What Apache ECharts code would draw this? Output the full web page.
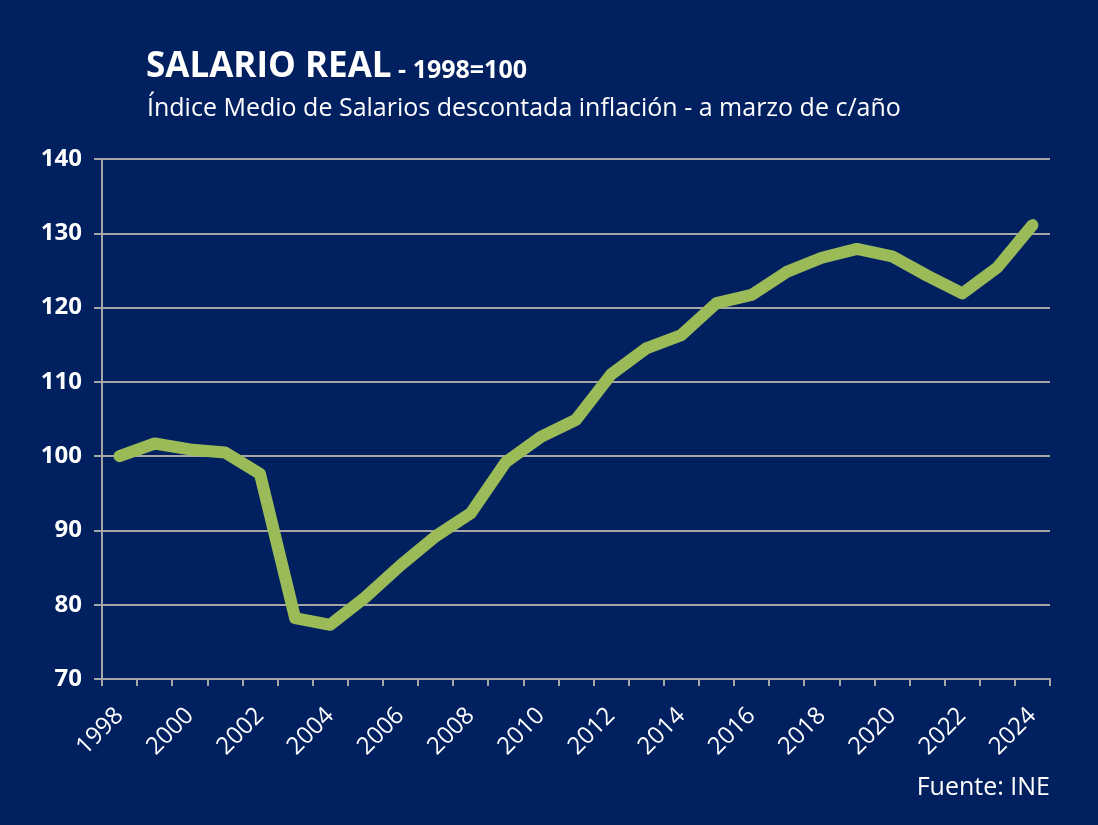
<!DOCTYPE html>
<html><head><meta charset="utf-8">
<script src="https://cdn.jsdelivr.net/npm/echarts@6/dist/echarts.min.js"></script>
<style>html,body{margin:0;padding:0;background:#002060}#c{width:1098px;height:825px}</style>
</head><body><div id="c"></div>
<script>
const years = ['1998','1999','2000','2001','2002','2003','2004','2005','2006','2007','2008','2009','2010','2011','2012','2013','2014','2015','2016','2017','2018','2019','2020','2021','2022','2023','2024'];
const salarioReal = [100.0,101.7,100.9,100.5,97.6,78.2,77.3,81.0,85.3,89.2,92.3,99.2,102.6,104.9,111.0,114.5,116.3,120.6,121.7,124.8,126.7,127.9,126.9,124.3,121.9,125.4,131.1];
const titleMain = 'SALARIO REAL';
const titleSub = ' - 1998=100';
const subtitle = 'Índice Medio de Salarios descontada inflación - a marzo de c/año';
const source = 'Fuente: INE';

const chart = echarts.init(document.getElementById('c'));
const font = 'Open Sans';
chart.setOption({
  backgroundColor: '#002060',
  textStyle: {fontFamily: font},
  graphic: [
    {type:'text', left:146, top:50, style:{rich:{a:{fontSize:35,fontWeight:'bold',fill:'#fff',fontFamily:font},b:{fontSize:25,fontWeight:'bold',fill:'#fff',fontFamily:font,padding:[6,0,0,0]}}, text:'{a|'+titleMain+'}{b|'+titleSub+'}'}},
    {type:'text', left:147, top:96, style:{text:subtitle, fontSize:25, fill:'#fff', fontFamily:font}},
    {type:'text', right:48, top:775, style:{text:source, fontSize:25, fill:'#fff', fontFamily:font}}
  ],
  grid: {left:102, right:48, top:159, bottom:146},
  xAxis: {
    type:'category', data: years, boundaryGap:true,
    axisLine:{lineStyle:{color:'#a6a6a6', width:2}},
    axisTick:{show:true, length:7, lineStyle:{color:'#a6a6a6', width:2}, interval:0},
    axisLabel:{interval:1, rotate:45, color:'#fff', fontSize:24, fontFamily:font, margin:33}
  },
  yAxis: {
    type:'value', min:70, max:140, interval:10,
    axisLine:{show:true, lineStyle:{color:'#a6a6a6', width:2}},
    axisTick:{show:true, length:8, lineStyle:{color:'#a6a6a6', width:2}},
    axisLabel:{color:'#fff', fontSize:24, fontWeight:'bold', fontFamily:font, margin:20},
    splitLine:{lineStyle:{color:'#a6a6a6', width:2}}
  },
  series: [{
    type:'line', data: salarioReal, symbol:'none', smooth:false,
    lineStyle:{color:'#9BBB59', width:12, cap:'round', join:'round'}
  }]
});
</script></body></html>
